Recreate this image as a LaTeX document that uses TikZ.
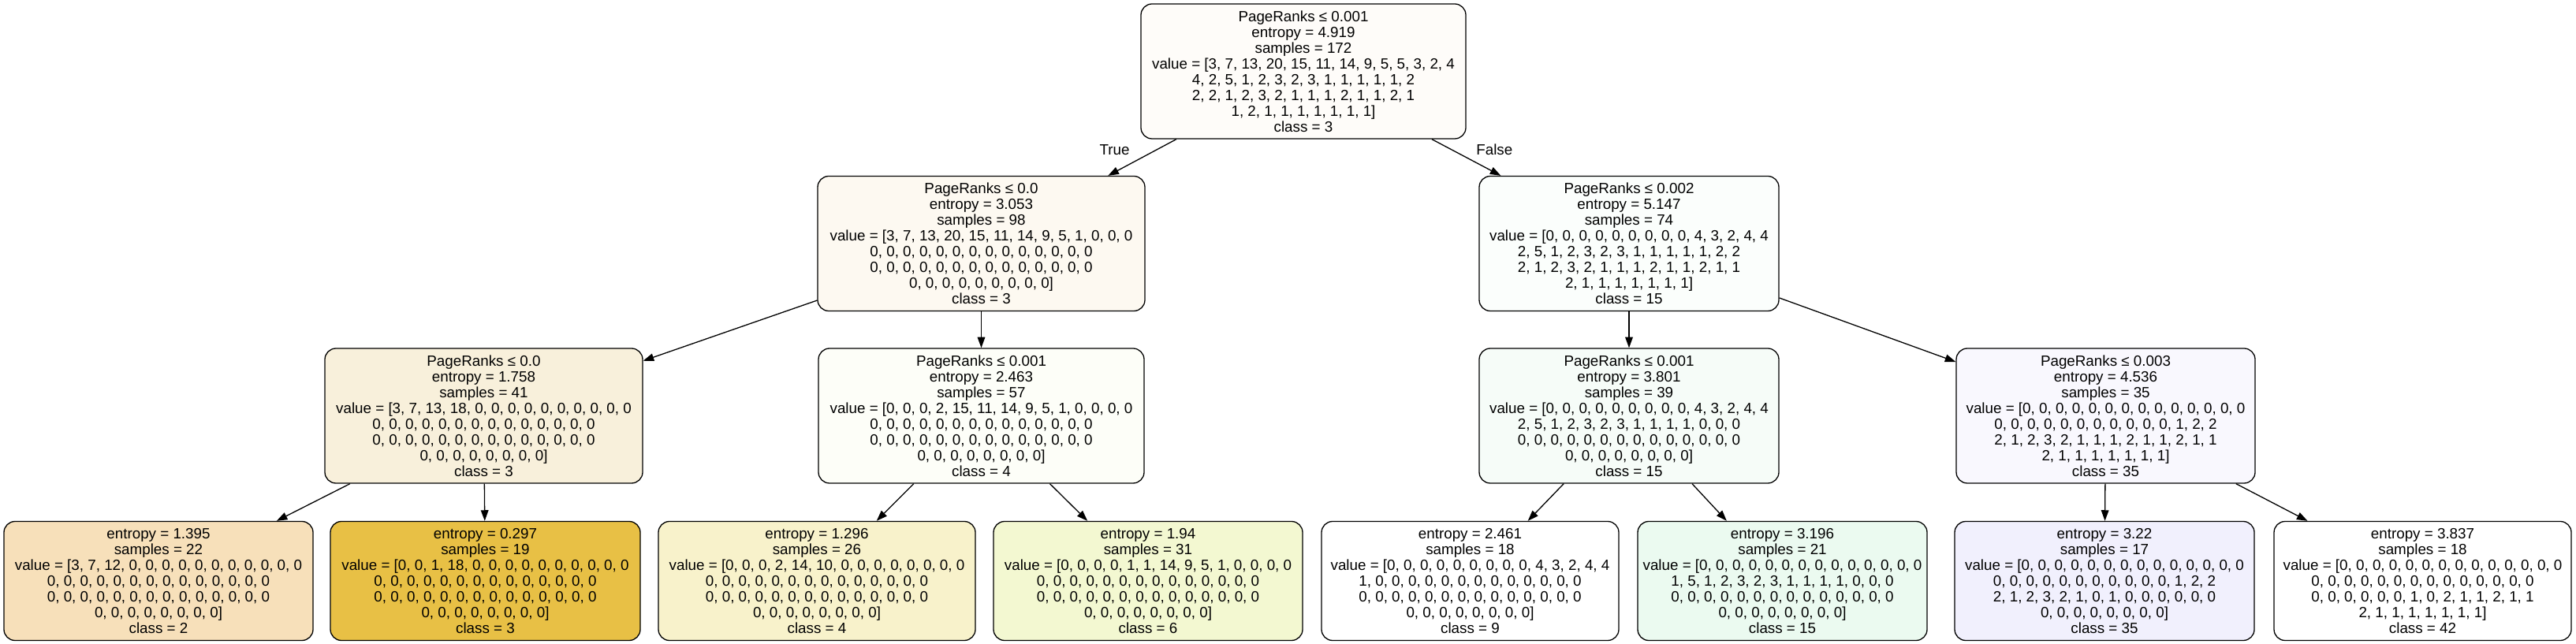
\documentclass[tikz,border=0pt]{standalone}
\usepackage{fontspec}
\setmainfont{Liberation Sans}
\usetikzlibrary{arrows.meta}

\definecolor{c0}{HTML}{FEFCF9}
\definecolor{c1}{HTML}{FDF9F1}
\definecolor{c2}{HTML}{F8F0DB}
\definecolor{c3}{HTML}{F7E0BA}
\definecolor{c4}{HTML}{E8C045}
\definecolor{c5}{HTML}{FDFEF8}
\definecolor{c6}{HTML}{F8F2CB}
\definecolor{c7}{HTML}{F3F8D1}
\definecolor{c8}{HTML}{FBFEFC}
\definecolor{c9}{HTML}{F6FCF8}
\definecolor{c10}{HTML}{FFFFFF}
\definecolor{c11}{HTML}{EBFAF0}
\definecolor{c12}{HTML}{F9F8FE}
\definecolor{c13}{HTML}{F1F0FD}
\definecolor{c14}{HTML}{FFFFFF}

\begin{document}
\begin{tikzpicture}[font=\fontsize{9.4}{10}\selectfont,
    split/.style = {draw, line width=0.65pt, rounded corners=7pt, align=center, inner sep=2pt, minimum height=85.5pt},
    leaf/.style = {split, minimum height=75.5pt},
    edge/.style = {line width=0.65pt, -{Triangle[length=6.8pt, width=4.8pt]}},
    node distance={109.25pt}]
        \useasboundingbox (0,0) rectangle (1633.5pt,-408.5pt);
        \node[split, fill=c0, minimum width=206pt] (0) at (826.5pt,-45.25pt) {PageRanks ≤ 0.001\\entropy = 4.919\\samples = 172\\value = [3, 7, 13, 20, 15, 11, 14, 9, 5, 5, 3, 2, 4\\4, 2, 5, 1, 2, 3, 2, 3, 1, 1, 1, 1, 1, 2\\2, 2, 1, 2, 3, 2, 1, 1, 1, 2, 1, 1, 2, 1\\1, 2, 1, 1, 1, 1, 1, 1, 1]\\class = 3};
        \node[split, fill=c1, minimum width=207.5pt] (1) [below of=0, xshift=-204.25pt] {PageRanks ≤ 0.0\\entropy = 3.053\\samples = 98\\value = [3, 7, 13, 20, 15, 11, 14, 9, 5, 1, 0, 0, 0\\0, 0, 0, 0, 0, 0, 0, 0, 0, 0, 0, 0, 0, 0\\0, 0, 0, 0, 0, 0, 0, 0, 0, 0, 0, 0, 0, 0\\0, 0, 0, 0, 0, 0, 0, 0, 0]\\class = 3};
        \node[split, fill=c8, minimum width=190pt] (8) [below of=0, xshift=206.5pt] {PageRanks ≤ 0.002\\entropy = 5.147\\samples = 74\\value = [0, 0, 0, 0, 0, 0, 0, 0, 0, 4, 3, 2, 4, 4\\2, 5, 1, 2, 3, 2, 3, 1, 1, 1, 1, 1, 2, 2\\2, 1, 2, 3, 2, 1, 1, 1, 2, 1, 1, 2, 1, 1\\2, 1, 1, 1, 1, 1, 1, 1]\\class = 15};
        \node[split, fill=c2, minimum width=201.5pt] (2) [below of=1, xshift=-315.5pt] {PageRanks ≤ 0.0\\entropy = 1.758\\samples = 41\\value = [3, 7, 13, 18, 0, 0, 0, 0, 0, 0, 0, 0, 0, 0\\0, 0, 0, 0, 0, 0, 0, 0, 0, 0, 0, 0, 0, 0\\0, 0, 0, 0, 0, 0, 0, 0, 0, 0, 0, 0, 0, 0\\0, 0, 0, 0, 0, 0, 0, 0]\\class = 3};
        \node[split, fill=c5, minimum width=206.5pt] (5) [below of=1] {PageRanks ≤ 0.001\\entropy = 2.463\\samples = 57\\value = [0, 0, 0, 2, 15, 11, 14, 9, 5, 1, 0, 0, 0, 0\\0, 0, 0, 0, 0, 0, 0, 0, 0, 0, 0, 0, 0, 0\\0, 0, 0, 0, 0, 0, 0, 0, 0, 0, 0, 0, 0, 0\\0, 0, 0, 0, 0, 0, 0, 0]\\class = 4};
        \node[split, fill=c9, minimum width=190pt] (9) [below of=8] {PageRanks ≤ 0.001\\entropy = 3.801\\samples = 39\\value = [0, 0, 0, 0, 0, 0, 0, 0, 0, 4, 3, 2, 4, 4\\2, 5, 1, 2, 3, 2, 3, 1, 1, 1, 1, 0, 0, 0\\0, 0, 0, 0, 0, 0, 0, 0, 0, 0, 0, 0, 0, 0\\0, 0, 0, 0, 0, 0, 0, 0]\\class = 15};
        \node[split, fill=c12, minimum width=189.5pt] (12) [below of=8, xshift=302.25pt] {PageRanks ≤ 0.003\\entropy = 4.536\\samples = 35\\value = [0, 0, 0, 0, 0, 0, 0, 0, 0, 0, 0, 0, 0, 0\\0, 0, 0, 0, 0, 0, 0, 0, 0, 0, 0, 1, 2, 2\\2, 1, 2, 3, 2, 1, 1, 1, 2, 1, 1, 2, 1, 1\\2, 1, 1, 1, 1, 1, 1, 1]\\class = 35};
        \node[leaf, fill=c3, minimum width=196pt] (3) [below of=2, xshift=-206.25pt, yshift=4.5pt] {entropy = 1.395\\samples = 22\\value = [3, 7, 12, 0, 0, 0, 0, 0, 0, 0, 0, 0, 0, 0\\0, 0, 0, 0, 0, 0, 0, 0, 0, 0, 0, 0, 0, 0\\0, 0, 0, 0, 0, 0, 0, 0, 0, 0, 0, 0, 0, 0\\0, 0, 0, 0, 0, 0, 0, 0]\\class = 2};
        \node[leaf, fill=c4, minimum width=196.5pt] (4) [below of=2, xshift=1pt, yshift=4.5pt] {entropy = 0.297\\samples = 19\\value = [0, 0, 1, 18, 0, 0, 0, 0, 0, 0, 0, 0, 0, 0\\0, 0, 0, 0, 0, 0, 0, 0, 0, 0, 0, 0, 0, 0\\0, 0, 0, 0, 0, 0, 0, 0, 0, 0, 0, 0, 0, 0\\0, 0, 0, 0, 0, 0, 0, 0]\\class = 3};
        \node[leaf, fill=c6, minimum width=201pt] (6) [below of=5, xshift=-104.25pt, yshift=4.5pt] {entropy = 1.296\\samples = 26\\value = [0, 0, 0, 2, 14, 10, 0, 0, 0, 0, 0, 0, 0, 0\\0, 0, 0, 0, 0, 0, 0, 0, 0, 0, 0, 0, 0, 0\\0, 0, 0, 0, 0, 0, 0, 0, 0, 0, 0, 0, 0, 0\\0, 0, 0, 0, 0, 0, 0, 0]\\class = 4};
        \node[leaf, fill=c7, minimum width=196pt] (7) [below of=5, xshift=105.75pt, yshift=4.5pt] {entropy = 1.94\\samples = 31\\value = [0, 0, 0, 0, 1, 1, 14, 9, 5, 1, 0, 0, 0, 0\\0, 0, 0, 0, 0, 0, 0, 0, 0, 0, 0, 0, 0, 0\\0, 0, 0, 0, 0, 0, 0, 0, 0, 0, 0, 0, 0, 0\\0, 0, 0, 0, 0, 0, 0, 0]\\class = 6};
        \node[leaf, fill=c10, minimum width=188.5pt] (10) [below of=9, xshift=-100.75pt, yshift=4.5pt] {entropy = 2.461\\samples = 18\\value = [0, 0, 0, 0, 0, 0, 0, 0, 0, 4, 3, 2, 4, 4\\1, 0, 0, 0, 0, 0, 0, 0, 0, 0, 0, 0, 0, 0\\0, 0, 0, 0, 0, 0, 0, 0, 0, 0, 0, 0, 0, 0\\0, 0, 0, 0, 0, 0, 0, 0]\\class = 9};
        \node[leaf, fill=c11, minimum width=183.5pt] (11) [below of=9, xshift=97.25pt, yshift=4.5pt] {entropy = 3.196\\samples = 21\\value = [0, 0, 0, 0, 0, 0, 0, 0, 0, 0, 0, 0, 0, 0\\1, 5, 1, 2, 3, 2, 3, 1, 1, 1, 1, 0, 0, 0\\0, 0, 0, 0, 0, 0, 0, 0, 0, 0, 0, 0, 0, 0\\0, 0, 0, 0, 0, 0, 0, 0]\\class = 15};
        \node[leaf, fill=c13, minimum width=190pt] (13) [below of=12, xshift=-0.75pt, yshift=4.5pt] {entropy = 3.22\\samples = 17\\value = [0, 0, 0, 0, 0, 0, 0, 0, 0, 0, 0, 0, 0, 0\\0, 0, 0, 0, 0, 0, 0, 0, 0, 0, 0, 1, 2, 2\\2, 1, 2, 3, 2, 1, 0, 1, 0, 0, 0, 0, 0, 0\\0, 0, 0, 0, 0, 0, 0, 0]\\class = 35};
        \node[leaf, fill=c14, minimum width=188.5pt] (14) [below of=12, xshift=201pt, yshift=4.5pt] {entropy = 3.837\\samples = 18\\value = [0, 0, 0, 0, 0, 0, 0, 0, 0, 0, 0, 0, 0, 0\\0, 0, 0, 0, 0, 0, 0, 0, 0, 0, 0, 0, 0, 0\\0, 0, 0, 0, 0, 0, 1, 0, 2, 1, 1, 2, 1, 1\\2, 1, 1, 1, 1, 1, 1, 1]\\class = 42};
        \node (true) at ([xshift=-19.5pt, yshift=16.5pt]1.north east) {True};
        \node (false) at ([xshift=10pt, yshift=16.5pt]8.north west) {False};
        \draw[edge] (0) -- (1);
        \draw[edge] (0) -- (8);
        \draw[edge] (1) -- (2);
        \draw[edge] (1) -- (5);
        \draw[edge] (2) -- (3);
        \draw[edge] (2) -- (4);
        \draw[edge] (5) -- (6);
        \draw[edge] (5) -- (7);
        \draw[edge] (8) -- (9);
        \draw[edge] (8) -- (12);
        \draw[edge] (9) -- (10);
        \draw[edge] (9) -- (11);
        \draw[edge] (12) -- (13);
        \draw[edge] (12) -- (14);
        \end{tikzpicture}
\end{document}
